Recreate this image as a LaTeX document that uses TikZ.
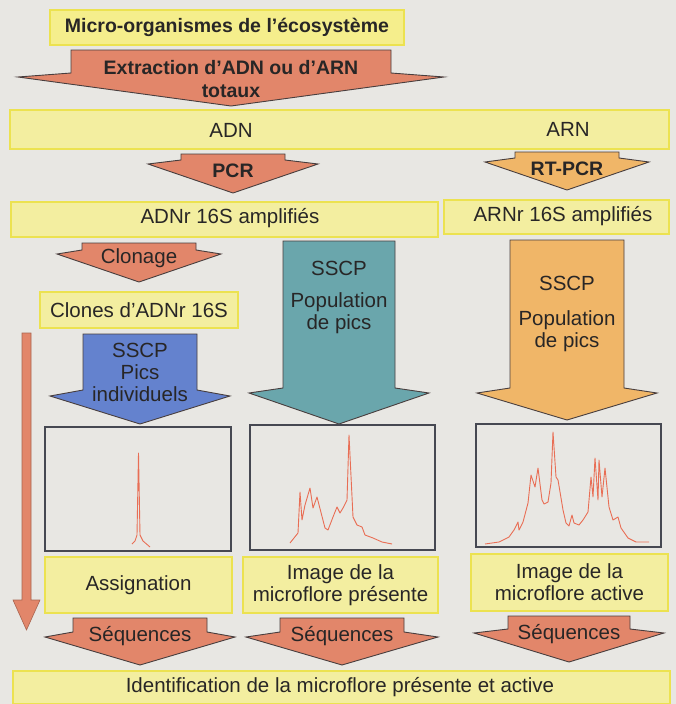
\documentclass[tikz,border=0pt]{standalone}
\usepackage{fontspec}
\setmainfont{Liberation Sans}
\definecolor{bgc}{RGB}{232,231,227}
\definecolor{yfill}{RGB}{243,238,160}
\definecolor{yfilltop}{RGB}{245,238,140}
\definecolor{yline}{RGB}{236,226,80}
\definecolor{salmon}{RGB}{226,134,106}
\definecolor{lorange}{RGB}{240,182,104}
\definecolor{bluea}{RGB}{100,130,206}
\definecolor{teala}{RGB}{106,166,172}
\definecolor{outl}{RGB}{72,62,62}
\definecolor{chartc}{RGB}{70,72,82}
\definecolor{curvec}{RGB}{232,110,85}
\definecolor{txt}{RGB}{40,38,38}
\newcommand{\blockarrow}[8]{%
  \draw[blockline,fill=#1] ({#2-#4},#3) -- ({#2+#4},#3) -- ({#2+#4},#5) -- ({#2+#6},#7) -- (#2,#8) -- ({#2-#6},#7) -- ({#2-#4},#5) -- cycle;}
\tikzset{
  blockline/.style={draw=outl,line width=0.9pt,line join=miter},
  ybox/.style={draw=yline,line width=2pt,fill=yfill,inner sep=0pt,text=txt,align=center,
    font=\fontsize{20.5}{22}\selectfont},
  lbl/.style={inner sep=0pt,text=txt,align=center,font=\fontsize{20.5}{22}\selectfont},
  blbl/.style={inner sep=0pt,text=txt,align=center,font=\fontsize{19.5}{23}\selectfont\bfseries},
  chart/.style={draw=chartc,line width=1.3pt,inner sep=0pt},
  curve/.style={draw=curvec,line width=0.9pt,line join=round}
}
\begin{document}
\begin{tikzpicture}[x=1pt,y=-1pt]
\useasboundingbox (0,0) rectangle (676,704);
\fill[bgc] (0,0) rectangle (676,704);

% top box
\node[ybox,fill=yfilltop,minimum width=354pt,minimum height=35pt,font=\fontsize{19.5}{23}\selectfont\bfseries] (mo) at (227,27.5) {Micro-organismes de l’écosystème};

% extraction arrow
\blockarrow{salmon}{231}{50}{160}{73}{213}{77}{106}
\node[blbl] (ext) at (231,79) {Extraction d’ADN ou d’ARN\\totaux};

% band ADN / ARN
\node[ybox,minimum width=659pt,minimum height=39pt] (band) at (339.5,129.5) {};
\node[lbl] (adn) at (231,130) {ADN};
\node[lbl] (arn) at (568,129) {ARN};

% PCR / RT-PCR
\blockarrow{salmon}{233}{154}{52}{160}{85}{164}{193}
\node[blbl] (pcr) at (233,171) {PCR};
\blockarrow{lorange}{567}{152}{52}{158}{82}{162}{190}
\node[blbl] (rtpcr) at (567,169) {RT-PCR};

% amplified bands
\node[ybox,minimum width=427pt,minimum height=35pt] (adnr) at (224.5,219.5) {};
\node[lbl] (adnrt) at (230,218) {ADNr 16S amplifiés};
\node[ybox,minimum width=225pt,minimum height=34pt] (arnr) at (556.5,217) {};
\node[lbl] (arnrt) at (563,216) {ARNr 16S amplifiés};

% Clonage
\blockarrow{salmon}{139}{243}{57}{250}{82}{254}{282}
\node[lbl] (clonage) at (139,258) {Clonage};
\node[ybox,minimum width=198pt,minimum height=36pt] (clones) at (139,310) {Clones d’ADNr 16S};

% big SSCP arrows
\blockarrow{bluea}{140}{334}{57}{390}{90}{396}{424}
\node[lbl] (sscp1) at (140,372) {SSCP\\Pics\\individuels};
\blockarrow{teala}{339}{241}{56}{388}{90}{393}{424}
\node[lbl] (sscp2a) at (339,268) {SSCP};
\node[lbl] (sscp2b) at (339,313) {Population\\de pics};
\blockarrow{lorange}{567}{240}{57}{388}{90}{393}{420}
\node[lbl] (sscp3a) at (567,283) {SSCP};
\node[lbl] (sscp3b) at (567,331) {Population\\de pics};

% vertical arrow
\draw[draw=salmon!75!black,line width=0.6pt,fill=salmon] (22,333) -- (31,333) -- (31,600) -- (40,600) -- (26.5,630) -- (13,600) -- (22,600) -- cycle;

% charts
\node[chart,minimum width=186pt,minimum height=124pt] (c1) at (138,489) {};
\node[chart,minimum width=185pt,minimum height=125pt] (c2) at (342.5,487.5) {};
\node[chart,minimum width=185pt,minimum height=123pt] (c3) at (568.5,485.5) {};

\draw[curve] (132,544) -- (135,541) -- (137,535) -- (138.5,453) -- (140,535) -- (143,541) -- (150,547);
\draw[curve] (290,543) -- (298,533) -- (300,492) -- (302,520) -- (305,505) -- (310,488) -- (313,508) -- (317,497) -- (325,528) -- (328,530) -- (333,517) -- (337,507) -- (340,513) -- (343,508) -- (347,500) -- (349,435) -- (353,517) -- (357,525) -- (362,527) -- (365,535) -- (373,538) -- (382,542) -- (392,544);
\draw[curve] (485,544) -- (499,542) -- (509,537) -- (514,530) -- (518,522) -- (519,530) -- (523,522) -- (528,503) -- (531,475) -- (535,487) -- (538,468) -- (542,500) -- (544,504) -- (548,502) -- (551,483) -- (553,432) -- (556,477) -- (558,480) -- (563,510) -- (566,523) -- (569,526) -- (572,515) -- (574,523) -- (579,525) -- (583,520) -- (588,512) -- (591,477) -- (593,497) -- (595,458) -- (598,500) -- (599,460) -- (602,497) -- (605,468) -- (609,507) -- (613,520) -- (618,517) -- (621,528) -- (628,538) -- (636,542) -- (649,542);

% result boxes
\node[ybox,minimum width=187pt,minimum height=56pt] (assig) at (138.5,585) {Assignation};
\node[ybox,minimum width=195pt,minimum height=56pt] (img2) at (340.5,585) {Image de la\\microflore présente};
\node[ybox,minimum width=197pt,minimum height=57pt] (img3) at (569.5,582.5) {Image de la\\microflore active};

% sequences arrows
\blockarrow{salmon}{140}{618}{67}{632}{95}{637}{665}
\node[lbl] (seq1) at (140,636) {Séquences};
\blockarrow{salmon}{342}{618}{62}{632}{96}{637}{665}
\node[lbl] (seq2) at (342,636) {Séquences};
\blockarrow{salmon}{569}{616}{61}{629}{95}{633}{662}
\node[lbl] (seq3) at (569,634) {Séquences};

% bottom band
\node[ybox,minimum width=657pt,minimum height=33pt] (ident) at (341.5,687) {};
\node[lbl] (identt) at (340,687) {Identification de la microflore présente et active};
\end{tikzpicture}
\end{document}
